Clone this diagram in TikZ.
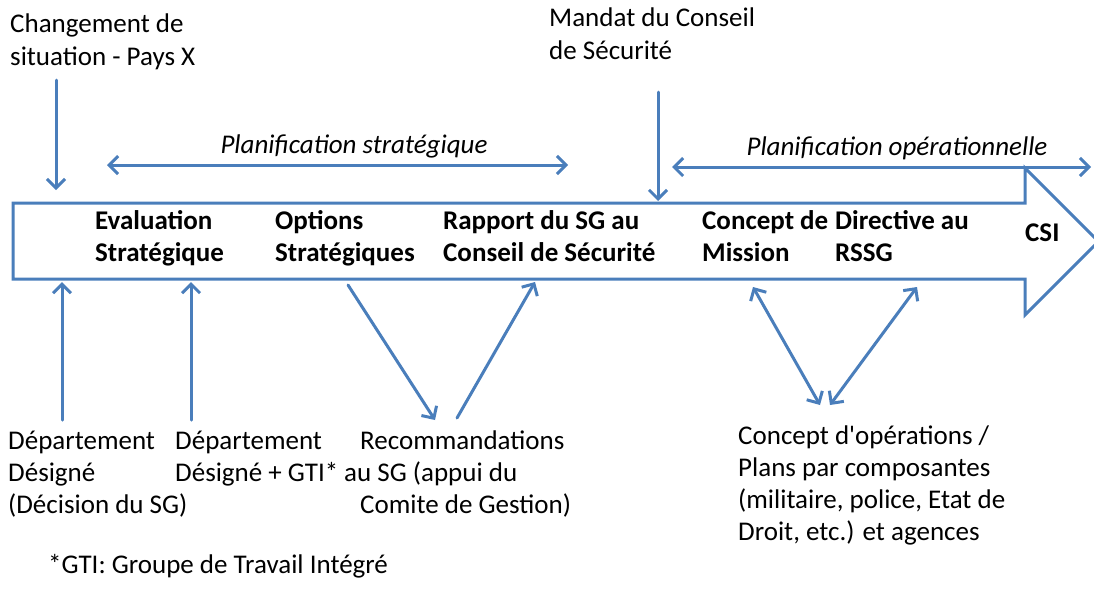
\documentclass[tikz,border=0pt]{standalone}
\usepackage{fontspec}
\setmainfont{Carlito}[Ligatures=TeXOff]
\usetikzlibrary{arrows.meta}
\definecolor{lineblue}{RGB}{74,126,187}
\begin{document}
\begin{tikzpicture}[x=1pt,y=-1pt,
  txt/.style={inner sep=0pt, anchor=base west, align=left, font=\fontsize{27}{32}\selectfont},
  toptxt/.style={txt, font=\fontsize{27}{33}\selectfont},
  boldtxt/.style={txt, font=\fontsize{27}{32}\selectfont\bfseries},
  ittxt/.style={inner sep=0pt, anchor=base, font=\fontsize{27}{32}\selectfont\itshape},
  bigarrow/.style={draw=lineblue, line width=3pt, fill=white, line join=miter},
  conn/.style={draw=lineblue, line width=3pt, line cap=round, -{Straight Barb[length=9pt,width=18pt]}},
  dconn/.style={draw=lineblue, line width=3pt, line cap=round, {Straight Barb[length=9pt,width=18pt]}-{Straight Barb[length=9pt,width=18pt]}}]
\useasboundingbox (0,0) rectangle (1094,590);
\clip (0,0) rectangle (1094,590);

% big process arrow
\draw[bigarrow] (13,203) -- (1025,203) -- (1025,168) -- (1098.5,241.5) -- (1025,315) -- (1025,279) -- (13,279) -- cycle;

% top texts (anchor = baseline of last line)
\node[toptxt] (chg) at (10,65) {Changement de\\situation - Pays X};
\node[toptxt] (mandat) at (549,59) {Mandat du Conseil\\de Sécurité};
\node[ittxt] (pstrat) at (354,153) {Planification stratégique};
\node[ittxt] (pop) at (897,155) {Planification opérationnelle};

% stage labels
\node[boldtxt] (eval) at (95,261) {Evaluation\\Stratégique};
\node[boldtxt] (opt) at (275,261) {Options\\Stratégiques};
\node[boldtxt] (rap) at (443,261) {Rapport du SG au\\Conseil de Sécurité};
\node[boldtxt] (cmis) at (702,261) {Concept de\\Mission};
\node[boldtxt] (dir) at (835,261) {Directive au\\RSSG};
\node[boldtxt] (csi) at (1025,241) {CSI};

% bottom texts
\node[txt] (dep1) at (8,513) {Département\\Désigné\\(Décision du SG)};
\node[txt] (dep2) at (175,481) {Département\\Désigné + GTI*};
\node[txt] (rec) at (360,513) {Recommandations\\\hspace*{-16pt}au SG (appui du\\Comite de Gestion)};
\node[txt] (conops) at (738,540) {Concept d'opérations /\\Plans par composantes\\(militaire, police, Etat de\\Droit, etc.) et agences};
\node[txt] (note) at (48,573) {*GTI: Groupe de Travail Intégré};

% connector end points
\coordinate (chgS) at (56,80);   \coordinate (chgE) at (56,190);
\coordinate (manS) at (658,92);  \coordinate (manE) at (658,201);
\coordinate (psL) at (107,165);  \coordinate (psR) at (568,165);
\coordinate (poL) at (672,167);  \coordinate (poR) at (1091,167);
\coordinate (d1S) at (62,420);   \coordinate (d1E) at (62,282);
\coordinate (d2S) at (191,420);  \coordinate (d2E) at (191,282);
\coordinate (r1S) at (348,285);  \coordinate (r1E) at (435,420);
\coordinate (r2S) at (457,418);  \coordinate (r2E) at (535,282);
\coordinate (c1A) at (753,287);  \coordinate (c1B) at (820,405);
\coordinate (c2A) at (917,287);  \coordinate (c2B) at (830,405);

\draw[conn] (chgS) -- (chgE);
\draw[conn] (manS) -- (manE);
\draw[dconn] (psL) -- (psR);
\draw[dconn] (poL) -- (poR);
\draw[conn] (d1S) -- (d1E);
\draw[conn] (d2S) -- (d2E);
\draw[conn] (r1S) -- (r1E);
\draw[conn] (r2S) -- (r2E);
\draw[dconn] (c1A) -- (c1B);
\draw[dconn] (c2A) -- (c2B);
\end{tikzpicture}
\end{document}
